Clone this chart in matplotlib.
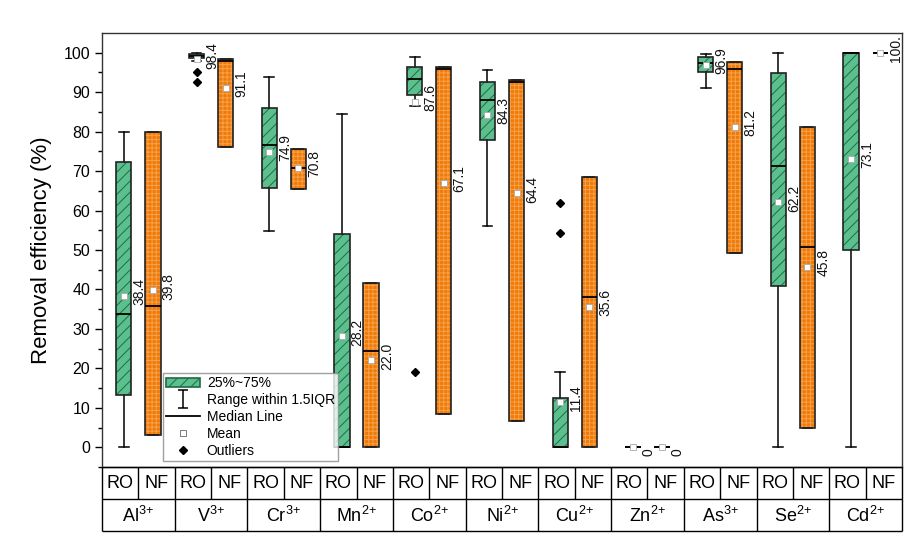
import numpy as np
import matplotlib
matplotlib.use("Agg")
import matplotlib.pyplot as plt
from matplotlib.patches import PathPatch, Patch
from matplotlib.lines import Line2D
from matplotlib.path import Path

plt.rcParams['font.family'] = ['Liberation Sans', 'DejaVu Sans']
plt.rcParams['hatch.linewidth'] = 0.7

# ions and charges (x categories)
ions = ['Al', 'V', 'Cr', 'Mn', 'Co', 'Ni', 'Cu', 'Zn', 'As', 'Se', 'Cd']
charges = ['3+', '3+', '3+', '2+', '2+', '2+', '2+', '2+', '3+', '2+', '2+']

# RO box stats
ro_low = [0.0, 97.8, 54.9, 0.0, 86.5, 56.0, 0.0, 0.0, 91.1, 0.0, 0.0]
ro_q1 = [13.2, 98.7, 65.6, 0.0, 89.3, 77.9, 0.0, 0.0, 95.0, 40.8, 49.9]
ro_med = [33.7, 99.2, 76.6, 0.0, 93.3, 88.0, 0.0, 0.0, 97.5, 71.2, 100.0]
ro_q3 = [72.3, 99.6, 86.1, 54.1, 96.3, 92.7, 12.5, 0.0, 98.8, 94.9, 100.0]
ro_high = [80.0, 100.0, 93.8, 84.5, 99.0, 95.7, 19.1, 0.0, 99.7, 100.0, 100.0]
ro_mean = [38.4, 98.4, 74.9, 28.2, 87.6, 84.3, 11.4, 0.0, 96.9, 62.2, 73.1]
ro_fliers = [[], [95.2, 92.7], [], [], [19.0], [], [61.9, 54.4], [], [], [], []]
ro_labels = ['38.4', '98.4', '74.9', '28.2', '87.6', '84.3', '11.4', '0', '96.9', '62.2', '73.1']

# NF box stats
nf_low = [3.0, 76.2, 65.5, 0.0, 8.5, 6.7, 0.0, 0.0, 49.3, 5.0, 100.0]
nf_q1 = [3.0, 76.2, 65.5, 0.0, 8.5, 6.7, 0.0, 0.0, 49.3, 5.0, 100.0]
nf_med = [35.9, 97.8, 70.8, 24.3, 95.8, 92.6, 38.2, 0.0, 95.9, 50.7, 100.0]
nf_q3 = [80.0, 98.4, 75.6, 41.6, 96.5, 93.1, 68.4, 0.0, 97.7, 81.3, 100.0]
nf_high = [80.0, 98.4, 75.6, 41.6, 96.5, 93.1, 68.4, 0.0, 97.7, 81.3, 100.0]
nf_mean = [39.8, 91.1, 70.8, 22.0, 67.1, 64.4, 35.6, 0.0, 81.2, 45.8, 100.0]
nf_fliers = [[] for _ in ions]
nf_labels = ['39.8', '91.1', '70.8', '22.0', '67.1', '64.4', '35.6', '0', '81.2', '45.8', '100.']

green = '#5cc08e'
green_hatch = '#1e6b45'
orange = '#f07a08'
orange_hatch = '#f6a24c'
edge = '#222222'


def make_stats(low, q1, med, q3, high, mean, fliers):
    return [dict(whislo=a, q1=b, med=c, q3=d, whishi=e, mean=f, fliers=g)
            for a, b, c, d, e, f, g in zip(low, q1, med, q3, high, mean, fliers)]


fig = plt.figure(figsize=(9.05, 5.42), dpi=100)
ax = fig.add_axes([0.1127, 0.1384, 0.884, 0.8007])

idx = np.arange(len(ions))
ro_pos = 2 * idx + 0.6
nf_pos = 2 * idx + 1.4
width = 0.42

series = [
    (make_stats(ro_low, ro_q1, ro_med, ro_q3, ro_high, ro_mean, ro_fliers), ro_pos, green, green_hatch, '///', ro_mean, ro_labels),
    (make_stats(nf_low, nf_q1, nf_med, nf_q3, nf_high, nf_mean, nf_fliers), nf_pos, orange, orange_hatch, '++++', nf_mean, nf_labels),
]

for stats, pos, fc, hc, hatch, means, labels in series:
    res = ax.bxp(stats, positions=pos, widths=width, patch_artist=True,
                 showmeans=True, capwidths=0.27, manage_ticks=False,
                 boxprops=dict(facecolor=fc, edgecolor=hc, hatch=hatch, linewidth=0),
                 medianprops=dict(color='k', linewidth=1.3),
                 whiskerprops=dict(color='k', linewidth=1.1),
                 capprops=dict(color='k', linewidth=1.1),
                 meanprops=dict(marker='s', markerfacecolor='white',
                                markeredgecolor='#aaaaaa', markersize=5, markeredgewidth=0.6),
                 flierprops=dict(marker='D', markerfacecolor='k', markeredgecolor='k',
                                 markersize=4.5))
    for box in res['boxes']:
        ax.add_patch(PathPatch(box.get_path(), fill=False, edgecolor=edge,
                               linewidth=1.2, zorder=2.05))
    for x, m, lab in zip(pos, means, labels):
        y = m + 1.0 if m > 1 else m - 1.3
        ax.text(x + width / 2 + 0.03, y, lab, rotation=90, ha='left', va='center',
                fontsize=10, color='#111111')

ax.set_xlim(0, 22)
ax.set_ylim(-5, 105)
ax.set_xticks([])
ax.set_yticks(np.arange(0, 101, 10))
ax.set_yticks(np.arange(-5, 105, 5), minor=True)
ax.tick_params(axis='y', which='major', direction='out', length=5, width=1, labelsize=11.5)
ax.tick_params(axis='y', which='minor', direction='out', length=3, width=1)
for s in ax.spines.values():
    s.set_color('#333333')
    s.set_linewidth(1)
ax.set_ylabel('Removal efficiency (%)', fontsize=16, labelpad=8)

# legend
ipath = Path([(-0.5, 1), (0.5, 1), (0, 1), (0, -1), (-0.5, -1), (0.5, -1)],
             [Path.MOVETO, Path.LINETO, Path.MOVETO, Path.LINETO, Path.MOVETO, Path.LINETO])
handles = [
    Patch(facecolor=green, edgecolor=green_hatch, hatch='///', linewidth=1.2),
    Line2D([], [], marker=ipath, linestyle='none', color='k', markersize=13, markeredgewidth=1.1),
    Line2D([], [], color='k', linewidth=1.3),
    Line2D([], [], marker='s', linestyle='none', markerfacecolor='white',
           markeredgecolor='#666666', markersize=4, markeredgewidth=0.6),
    Line2D([], [], marker='D', linestyle='none', color='k', markersize=4.5),
]
names = ['25%~75%', 'Range within 1.5IQR', 'Median Line', 'Mean', 'Outliers']
leg = fig.legend(handles, names, loc='upper left', bbox_to_anchor=(163 / 905, 1 - 373 / 542),
                 fontsize=10, frameon=True, fancybox=False, edgecolor='#888888',
                 borderpad=0.25, labelspacing=0.2, handlelength=2.4, handletextpad=0.5,
                 borderaxespad=0)
leg.get_frame().set_linewidth(1)

# category table under the plot
tax = fig.add_axes([0.1127, 0.0203, 0.884, 0.118])
tax.set_xlim(0, 22)
tax.set_ylim(0, 2)
tax.axis('off')
tax.hlines([0, 1, 2], 0, 22, color='k', linewidth=1, clip_on=False)
tax.vlines(np.arange(0, 23, 2), 0, 2, color='k', linewidth=1, clip_on=False)
tax.vlines(np.arange(1, 22, 2), 1, 2, color='k', linewidth=1, clip_on=False)
for i, (ion, ch) in enumerate(zip(ions, charges)):
    sup = ch.replace('+', '{+}')
    tax.text(2 * i + 0.5, 1.5, 'RO', ha='center', va='center', fontsize=13)
    tax.text(2 * i + 1.5, 1.5, 'NF', ha='center', va='center', fontsize=13)
    tax.text(2 * i + 1, 0.47, ion + r'$^{\mathregular{' + sup + '}}$',
             ha='center', va='center', fontsize=13)

fig.savefig('out.png', dpi=100)
